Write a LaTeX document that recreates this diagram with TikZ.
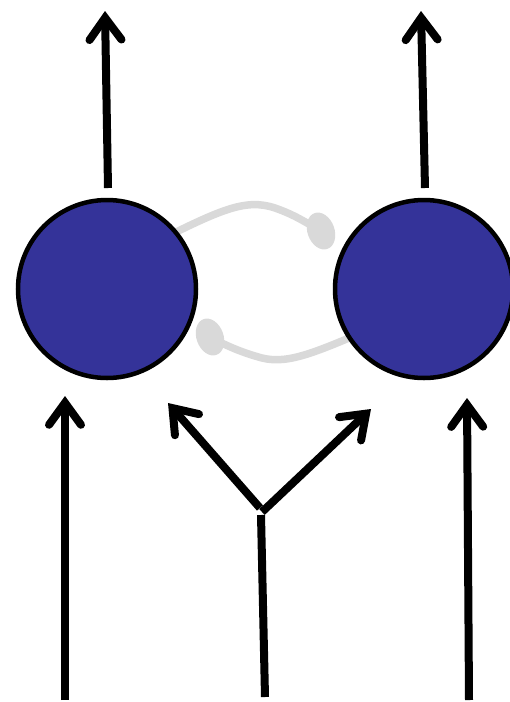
\documentclass[tikz,border=0pt]{standalone}
\usetikzlibrary{arrows.meta,shapes.geometric}
\definecolor{neuron}{HTML}{343399}
\definecolor{inhib}{HTML}{D9D9D9}
\begin{document}
\begin{tikzpicture}[x=1pt,y=-1pt,
  neuronnode/.style={circle,draw=black,line width=4.5pt,fill=neuron,minimum size=178pt,inner sep=0pt},
  excite/.style={line width=8pt,-{Straight Barb[length=22pt,width=32pt,line cap=round]}},
  inhibline/.style={draw=inhib,line width=7.5pt,line cap=round},
  bulb/.style={ellipse,fill=inhib,minimum width=27pt,minimum height=38pt,inner sep=0pt}]
\useasboundingbox (0,0) rectangle (510,702);
% inhibitory connections
\coordinate (t0) at (150,245);
\node[bulb,rotate=20] (tb) at (321,231) {};
\draw[inhibline] (t0) .. controls (220,210) and (245,198) .. (275,208) .. controls (295,215) and (305,222) .. (tb.center);
\coordinate (b0) at (380,325);
\node[bulb,rotate=20] (bb) at (210,337) {};
\draw[inhibline] (b0) .. controls (320,350) and (290,365) .. (262,358) .. controls (240,352) and (225,345) .. (bb.center);
% neurons
\node[neuronnode] (L) at (107,289) {};
\node[neuronnode] (R) at (424,289) {};
% outputs
\coordinate (Lout) at (105,11);
\coordinate (Rout) at (421,11);
\draw[excite] (108,188) -- (Lout);
\draw[excite] (425,188) -- (Rout);
% inputs
\coordinate (Lin0) at (65,700);
\coordinate (Lin1) at (65,396);
\draw[excite] (Lin0) -- (Lin1);
\coordinate (Rin0) at (469,700);
\coordinate (Rin1) at (467,398);
\draw[excite] (Rin0) -- (Rin1);
% shared input
\coordinate (S0) at (265,697);
\coordinate (S1) at (261,515);
\draw[line width=8pt] (S0) -- (S1);
\coordinate (SL) at (260,508);
\coordinate (SR) at (262,512);
\draw[excite] (SL) -- (168,403);
\draw[excite] (SR) -- (371,409);
\end{tikzpicture}
\end{document}
